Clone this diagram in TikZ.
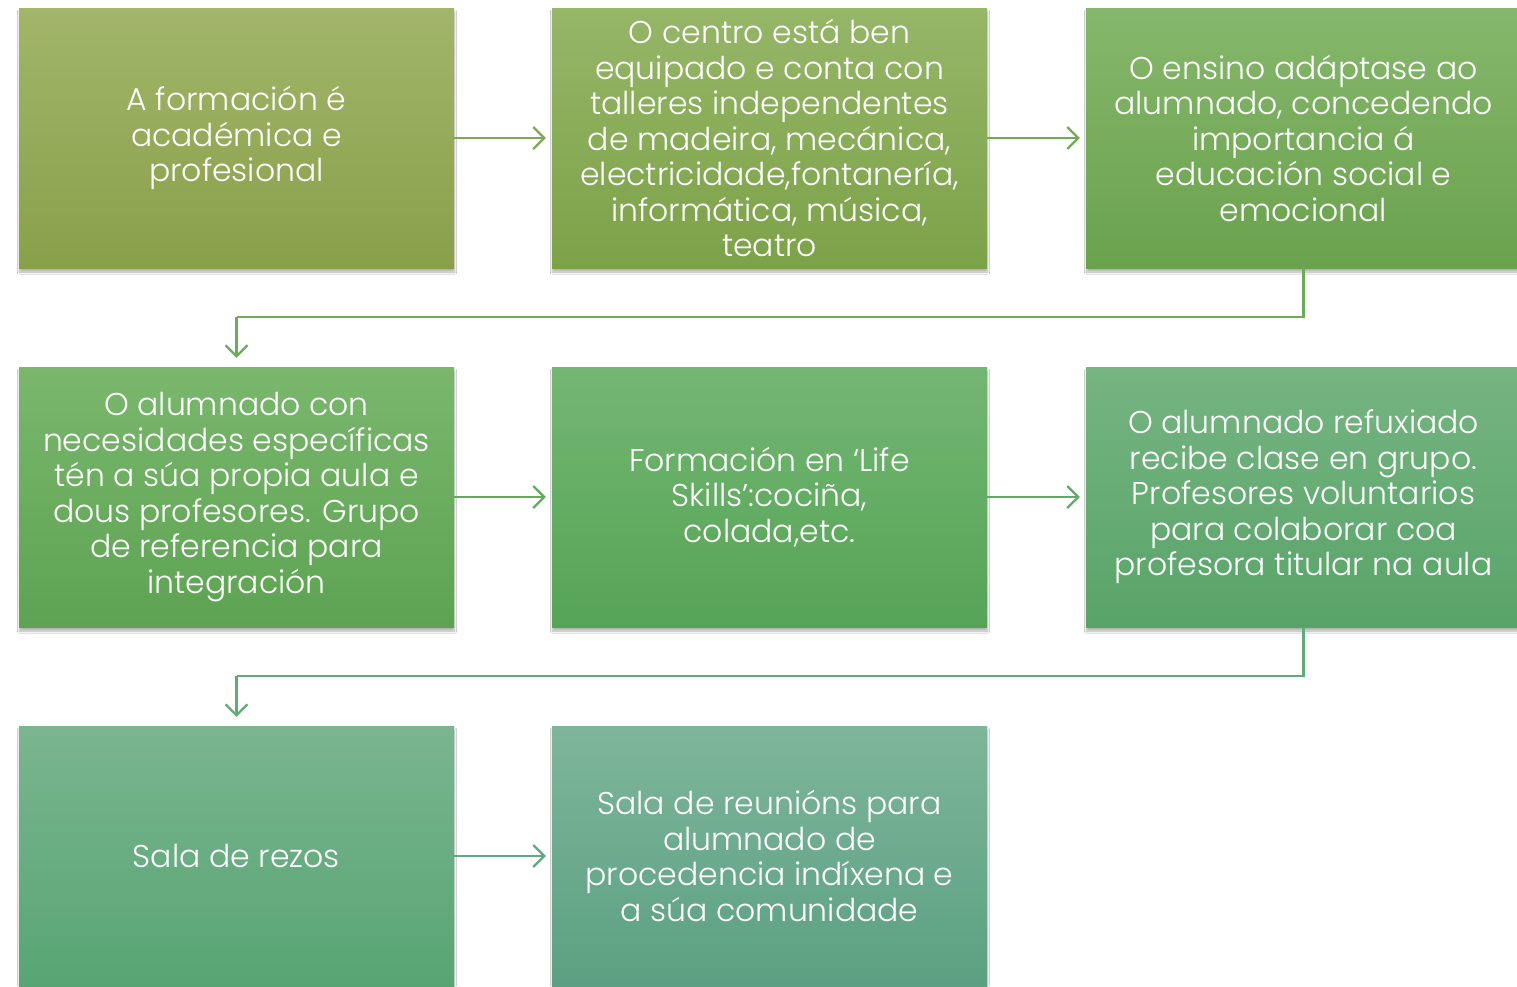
\documentclass[tikz,border=0pt]{standalone}
\usepackage{fontspec}
\setmainfont{Poppins}[UprightFont=* Light]
\usetikzlibrary{arrows.meta,shadows.blur}
\begin{document}
\begin{tikzpicture}[x=1pt,y=-1pt,
  box/.style={minimum width=435pt,minimum height=260pt,inner sep=0pt,
    text=white,align=center,font=\fontsize{31.5}{35.5}\selectfont,
    blur shadow={shadow xshift=0.5pt,shadow yshift=-4pt,shadow blur steps=6,shadow opacity=30}},
  conn/.style={line width=2.2pt,-{Straight Barb[length=11pt,width=22pt,line width=2.2pt]}}]
\clip (0,0) rectangle (1517,986);
\fill[white] (0,0) rectangle (1517,986);
\node[box,top color={rgb,255:red,162;green,181;blue,106},bottom color={rgb,255:red,137;green,160;blue,74}] (b1) at (236.5,138) {A formación é\\académica e\\profesional};
\node[box,top color={rgb,255:red,150;green,182;blue,104},bottom color={rgb,255:red,124;green,162;blue,72}] (b2) at (769.5,138) {O centro está ben\\equipado e conta con\\talleres independentes\\de madeira, mecánica,\\electricidade,fontanería,\\informática, música,\\teatro};
\node[box,top color={rgb,255:red,134;green,183;blue,108},bottom color={rgb,255:red,106;green,162;blue,77}] (b3) at (1303.5,138) {O ensino adáptase ao\\alumnado, concedendo\\importancia á\\educación social e\\emocional};
\node[box,top color={rgb,255:red,122;green,183;blue,109},bottom color={rgb,255:red,93;green,163;blue,82}] (b4) at (236.5,497) {O alumnado con\\necesidades específicas\\tén a súa propia aula e\\dous profesores. Grupo\\de referencia para\\integración};
\node[box,top color={rgb,255:red,116;green,182;blue,115},bottom color={rgb,255:red,85;green,164;blue,86}] (b5) at (769.5,497) {Formación en ‘Life\\Skills’:cociña,\\colada,etc.};
\node[box,top color={rgb,255:red,118;green,180;blue,130},bottom color={rgb,255:red,88;green,164;blue,104}] (b6) at (1303.5,497) {O alumnado refuxiado\\recibe clase en grupo.\\Profesores voluntarios\\para colaborar coa\\profesora titular na aula};
\node[box,top color={rgb,255:red,122;green,181;blue,144},bottom color={rgb,255:red,88;green,165;blue,115}] (b7) at (236.5,856) {Sala de rezos};
\node[box,top color={rgb,255:red,126;green,181;blue,155},bottom color={rgb,255:red,91;green,160;blue,130}] (b8) at (769.5,856) {Sala de reunións para\\alumnado de\\procedencia indíxena e\\a súa comunidade};
\coordinate (r1) at (1303.5,317);
\coordinate (l1) at (236.5,317);
\coordinate (r2) at (1303.5,676);
\coordinate (l2) at (236.5,676);
\draw[conn,draw={rgb,255:red,128;green,168;blue,80}] (b1.east) -- ([xshift=-6pt]b2.west);
\draw[conn,draw={rgb,255:red,116;green,170;blue,84}] (b2.east) -- ([xshift=-6pt]b3.west);
\draw[conn,draw={rgb,255:red,108;green,172;blue,88},-] (b3.south) -- (r1) -- (l1);
\draw[conn,draw={rgb,255:red,108;green,172;blue,88}] (l1) -- ([yshift=9pt]b4.north);
\draw[conn,draw={rgb,255:red,98;green,170;blue,92}] (b4.east) -- ([xshift=-6pt]b5.west);
\draw[conn,draw={rgb,255:red,96;green,170;blue,100}] (b5.east) -- ([xshift=-6pt]b6.west);
\draw[conn,draw={rgb,255:red,98;green,170;blue,120},-] (b6.south) -- (r2) -- (l2);
\draw[conn,draw={rgb,255:red,98;green,170;blue,120}] (l2) -- ([yshift=9pt]b7.north);
\draw[conn,draw={rgb,255:red,96;green,168;blue,130}] (b7.east) -- ([xshift=-6pt]b8.west);
\end{tikzpicture}
\end{document}
